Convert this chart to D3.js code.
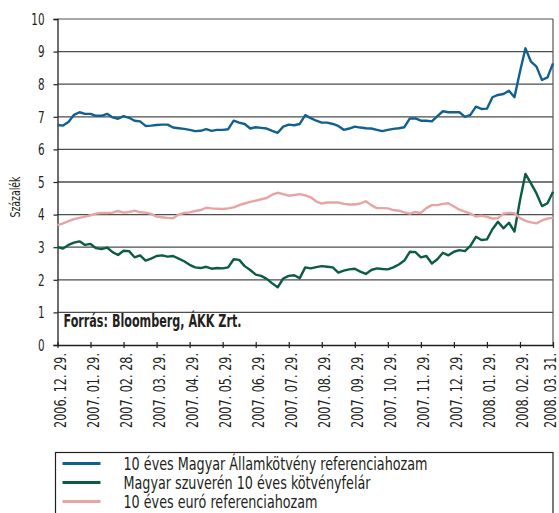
<!DOCTYPE html>
<html lang="hu">
<head>
<meta charset="UTF-8">
<title>Hozamok</title>
<script src="https://d3js.org/d3.v7.min.js"></script>
<style>
  body { margin: 0; background: #fff; }
  svg text { font-family: "Liberation Sans Narrow", "Arial Narrow", "DejaVu Sans Condensed", sans-serif; fill: #231f20; }
</style>
</head>
<body>
<div id="chart"></div>
<script>
// tick labels (one per month, equally spaced)
const tickLabels = ["2006. 12. 29.", "2007. 01. 29.", "2007. 02. 28.", "2007. 03. 29.", "2007. 04. 29.",
  "2007. 05. 29.", "2007. 06. 29.", "2007. 07. 29.", "2007. 08. 29.", "2007. 09. 29.", "2007. 10. 29.",
  "2007. 11. 29.", "2007. 12. 29.", "2008. 01. 29.", "2008. 02. 29.", "2008. 03. 31."];

// readings every 1/6 month, from 2006.12.29 to 2008.03.31
const allamkotveny = [6.75, 6.73, 6.84, 7.06, 7.14, 7.09, 7.09, 7.03, 7.03, 7.09,
  6.98, 6.94, 7.02, 6.97, 6.88, 6.86, 6.72, 6.73, 6.75, 6.76,
  6.76, 6.67, 6.65, 6.63, 6.60, 6.56, 6.57, 6.62, 6.57, 6.60,
  6.60, 6.62, 6.88, 6.82, 6.78, 6.64, 6.68, 6.66, 6.64, 6.57,
  6.51, 6.70, 6.76, 6.74, 6.78, 7.05, 6.96, 6.88, 6.82, 6.82,
  6.78, 6.72, 6.60, 6.64, 6.70, 6.67, 6.65, 6.64, 6.60, 6.56,
  6.60, 6.63, 6.65, 6.68, 6.95, 6.95, 6.88, 6.88, 6.86, 7.02,
  7.17, 7.14, 7.14, 7.14, 7.00, 7.06, 7.31, 7.24, 7.25, 7.60,
  7.67, 7.70, 7.80, 7.60, 8.38, 9.10, 8.69, 8.54, 8.13, 8.21, 8.64];

const felar = [3.00, 2.96, 3.07, 3.14, 3.18, 3.07, 3.10, 2.97, 2.94, 2.99,
  2.85, 2.76, 2.89, 2.88, 2.69, 2.75, 2.59, 2.65, 2.73, 2.75,
  2.71, 2.73, 2.65, 2.57, 2.46, 2.38, 2.36, 2.40, 2.34, 2.36,
  2.35, 2.38, 2.63, 2.61, 2.42, 2.30, 2.16, 2.12, 2.03, 1.89,
  1.77, 2.04, 2.12, 2.14, 2.05, 2.38, 2.35, 2.39, 2.42, 2.40,
  2.38, 2.22, 2.28, 2.32, 2.34, 2.25, 2.18, 2.30, 2.35, 2.33,
  2.32, 2.38, 2.47, 2.59, 2.86, 2.85, 2.69, 2.73, 2.50, 2.63,
  2.83, 2.75, 2.86, 2.91, 2.88, 3.04, 3.32, 3.22, 3.24, 3.55,
  3.78, 3.58, 3.75, 3.48, 4.43, 5.25, 4.96, 4.65, 4.26, 4.35, 4.70];

const euro = [3.68, 3.73, 3.80, 3.86, 3.90, 3.94, 3.98, 4.03, 4.05, 4.05,
  4.06, 4.11, 4.06, 4.08, 4.12, 4.07, 4.06, 4.02, 3.94, 3.92,
  3.90, 3.89, 4.00, 4.05, 4.07, 4.11, 4.14, 4.21, 4.19, 4.18,
  4.17, 4.19, 4.22, 4.29, 4.34, 4.39, 4.43, 4.47, 4.51, 4.61,
  4.67, 4.63, 4.58, 4.60, 4.63, 4.59, 4.53, 4.40, 4.34, 4.37,
  4.37, 4.37, 4.33, 4.31, 4.31, 4.34, 4.41, 4.29, 4.20, 4.20,
  4.19, 4.14, 4.12, 4.07, 4.03, 4.08, 4.05, 4.20, 4.29, 4.29,
  4.33, 4.35, 4.25, 4.15, 4.09, 4.03, 3.94, 3.97, 3.93, 3.88,
  3.89, 4.03, 4.05, 4.04, 3.89, 3.81, 3.76, 3.73, 3.82, 3.88, 3.90];

const seriesNames = ["10 éves Magyar Államkötvény referenciahozam",
  "Magyar szuverén 10 éves kötvényfelár",
  "10 éves euró referenciahozam"];
const legendWidths = [304, 247, 194];
const seriesColors = ["#11618f", "#0b5c45", "#e8a3a3"];
const yTicks = [0, 1, 2, 3, 4, 5, 6, 7, 8, 9, 10];
const stepsPerMonth = 6;

const width = 559, height = 513;
const margin = { top: 19, right: 5, bottom: 168, left: 57.5 };
const plotW = width - margin.left - margin.right;
const plotH = height - margin.top - margin.bottom;

const svg = d3.select("#chart").append("svg")
  .attr("width", width)
  .attr("height", height);

const g = svg.append("g")
  .attr("transform", `translate(${margin.left},${margin.top})`);

// scales
const x = d3.scaleLinear()
  .domain([0, tickLabels.length - 1])
  .range([0, plotW - 1]);

const y = d3.scaleLinear()
  .domain([0, 10])
  .range([plotH, 0]);

// gridlines
g.append("g")
  .selectAll("line")
  .data(yTicks.filter(d => d > 0))
  .join("line")
  .attr("x1", 0)
  .attr("x2", x.range()[1])
  .attr("y1", d => y(d))
  .attr("y2", d => y(d))
  .attr("stroke", d => d === 10 ? "#888" : "#4d4d4d")
  .attr("stroke-width", 1.3);

// right border
g.append("line")
  .attr("x1", x.range()[1]).attr("x2", x.range()[1])
  .attr("y1", y(10)).attr("y2", y(0))
  .attr("stroke", "#555").attr("stroke-width", 1.2);

// Y axis
const yAxis = g.append("g")
  .call(d3.axisLeft(y).tickValues(yTicks).tickSize(4).tickPadding(9));
yAxis.select(".domain").attr("stroke", "#231f20").attr("stroke-width", 1.3);
yAxis.selectAll(".tick line").attr("stroke", "#231f20").attr("stroke-width", 1.2);
yAxis.selectAll("text")
  .attr("font-size", 16.5)
  .attr("textLength", d => String(d).length * 6.6)
  .attr("lengthAdjust", "spacingAndGlyphs");

// X axis
const xAxis = g.append("g")
  .attr("transform", `translate(0,${y(0)})`)
  .call(d3.axisBottom(x).tickValues(d3.range(tickLabels.length))
    .tickFormat(i => tickLabels[i]).tickSize(0).tickSizeOuter(0).tickPadding(0));
xAxis.select(".domain").attr("stroke", "#231f20").attr("stroke-width", 1.3);
xAxis.selectAll(".tick line").attr("y1", -3).attr("y2", 3)
  .attr("stroke", "#231f20").attr("stroke-width", 1.2);
xAxis.selectAll("text")
  .attr("font-size", 16)
  .attr("text-anchor", "end")
  .attr("dy", "0.35em")
  .attr("transform", "rotate(-90)")
  .attr("x", -8)
  .attr("y", (d, i) => i === tickLabels.length - 1 ? -3.5 : 2)
  .attr("textLength", 75)
  .attr("lengthAdjust", "spacingAndGlyphs");

// lines
const line = d3.line()
  .x((d, i) => x(i / stepsPerMonth))
  .y(d => y(d));

[allamkotveny, felar, euro].forEach((s, k) => {
  g.append("path")
    .datum(s)
    .attr("fill", "none")
    .attr("stroke", seriesColors[k])
    .attr("stroke-width", 2.4)
    .attr("stroke-linejoin", "round")
    .attr("d", line);
});

// source note
g.append("text")
  .attr("x", 6)
  .attr("y", y(0) - 18)
  .attr("font-size", 17.5)
  .attr("font-weight", "bold")
  .attr("textLength", 178)
  .attr("lengthAdjust", "spacingAndGlyphs")
  .text("Forrás: Bloomberg, ÁKK Zrt.");

// y label
svg.append("text")
  .attr("transform", `translate(20,197) rotate(-90)`)
  .attr("text-anchor", "middle")
  .attr("font-size", 14)
  .attr("textLength", 41)
  .attr("lengthAdjust", "spacingAndGlyphs")
  .text("Százalék");

// legend
const legend = svg.append("g").attr("transform", "translate(55.5,452.5)");
legend.append("rect")
  .attr("width", 497.5)
  .attr("height", 70)
  .attr("fill", "none")
  .attr("stroke", "#231f20")
  .attr("stroke-width", 1.2);

const rows = legend.selectAll("g.row")
  .data(seriesNames)
  .join("g")
  .attr("class", "row")
  .attr("transform", (d, i) => `translate(0,${11 + i * 19})`);

rows.append("line")
  .attr("x1", 7).attr("x2", 45)
  .attr("stroke", (d, i) => seriesColors[i])
  .attr("stroke-width", 3);

rows.append("text")
  .attr("x", 68)
  .attr("dy", "0.36em")
  .attr("font-size", 17)
  .attr("textLength", (d, i) => legendWidths[i])
  .attr("lengthAdjust", "spacingAndGlyphs")
  .text(d => d);
</script>
</body>
</html>
